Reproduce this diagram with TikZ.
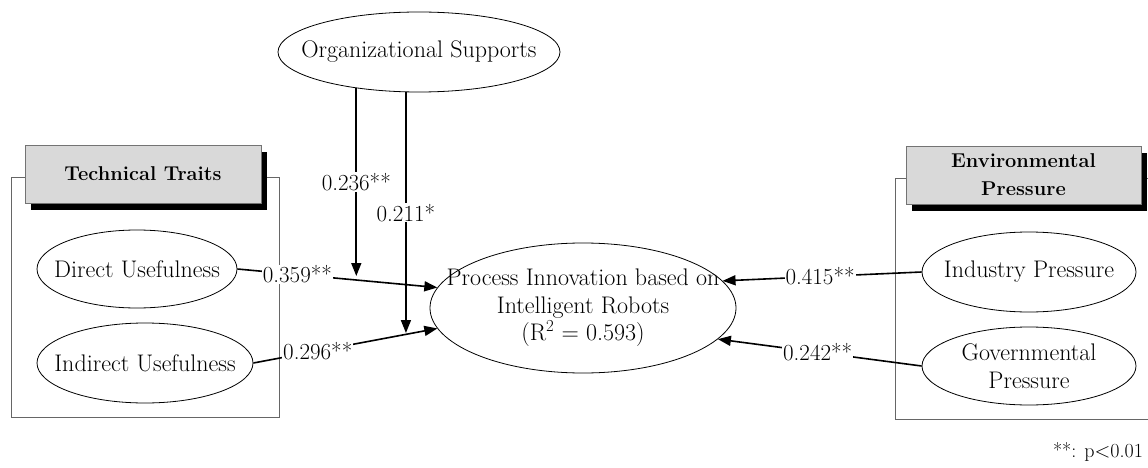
\documentclass[tikz,border=0pt]{standalone}
\usepackage{amsmath}
\usepackage{tikz}
\usetikzlibrary{shapes.geometric,arrows.meta,shadows}

\begin{document}
\begin{tikzpicture}[x=1pt,y=-1pt,
    latent/.style={ellipse, draw, line width=0.8pt, inner sep=-45pt, align=center, font=\fontsize{24}{27.5}\selectfont},
    grp/.style={draw=black!60, line width=0.8pt},
    head/.style={rectangle, draw=black!55, fill=black!15, line width=0.8pt, align=center,
        font=\bfseries\fontsize{20}{28}\selectfont,
        drop shadow={shadow xshift=6pt, shadow yshift=-7pt, fill=black, opacity=1}},
    effect/.style={-{Triangle[length=13pt,width=10pt]}, line width=1.6pt},
    coef/.style={fill=white, inner sep=1pt, font=\fontsize{23}{27.5}\selectfont}]
            \useasboundingbox (0,0) rectangle (1148,468);

            % Groups
            \draw[grp] (11,177) rectangle (279,417);
            \draw[grp] (1148,178) -- (895,178) -- (895,419) -- (1148,419);
            \node[head, minimum width=236, minimum height=58] (tt) at (143,174) {Technical Traits};
            \node[head, minimum width=235, minimum height=58] (ep) at (1023.5,175) {Environmental\\Pressure};

            % Nodes
            \node[latent, minimum width=282, minimum height=80] (org) at (419,52) {Organizational Supports};
            \node[latent, minimum width=306, minimum height=130] (pi) at (583,308) {Process Innovation based on\\Intelligent Robots\\(R\textsuperscript{2} = 0.593)};
            \node[latent, minimum width=200, minimum height=78] (du) at (137,269) {Direct Usefulness};
            \node[latent, minimum width=216, minimum height=80] (iu) at (145,363) {Indirect Usefulness};
            \node[latent, minimum width=214, minimum height=80] (ip) at (1029,272) {Industry Pressure};
            \node[latent, minimum width=214, minimum height=78] (gp) at (1029,366) {Governmental\\Pressure};
            \coordinate (m1) at (356,276);
            \coordinate (m2) at (406,333);

            % Edges
            \draw[effect] (du.east) -- (pi.172) node[coef, pos=0.3] {0.359**};
            \draw[effect] (iu.east) -- (pi.188) node[coef, pos=0.35] {0.296**};
            \draw[effect] (ip.west) -- (pi.11) node[coef, pos=0.51] {0.415**};
            \draw[effect] (gp.west) -- (pi.-13) node[coef, pos=0.51] {0.242**};
            \draw[effect] (org.210) -- (org.210 |- m1) node[coef, midway] {0.236**};
            \draw[effect] (org.252) -- (org.252 |- m2) node[coef, midway] {0.211*};

            \node[font=\fontsize{20}{24}\selectfont] (note) at (1098,452) {**: p$<$0.01};
        \end{tikzpicture}
\end{document}
